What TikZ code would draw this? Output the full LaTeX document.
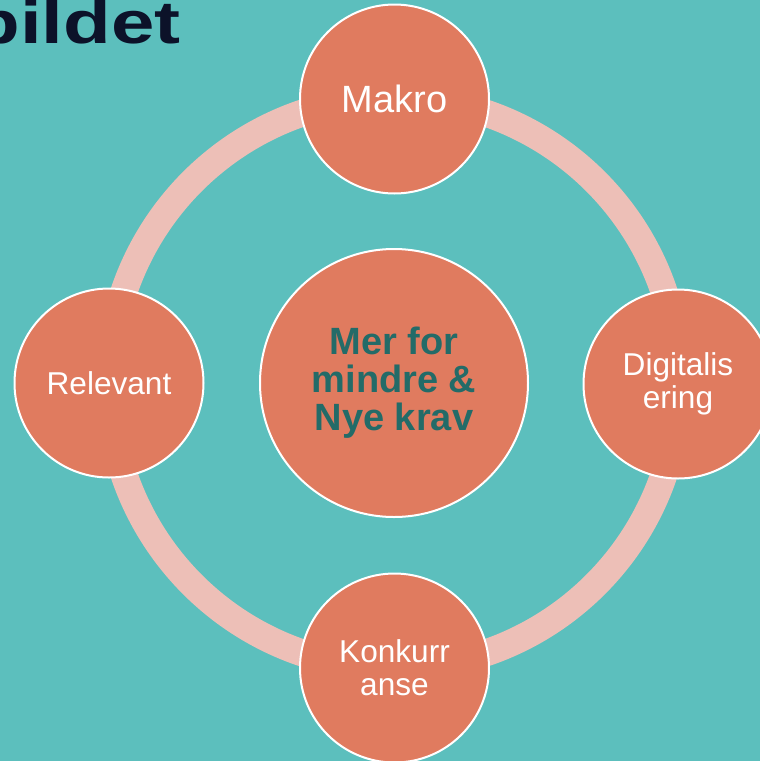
\documentclass[tikz,border=0pt]{standalone}
\usepackage{fontspec}
\setmainfont{Liberation Sans}
\definecolor{nen}{HTML}{5CBFBD}
\definecolor{cam}{HTML}{E07B5F}
\definecolor{hong}{HTML}{EDBFB7}
\definecolor{chu}{HTML}{236B68}
\definecolor{tieude}{HTML}{0C1229}
\begin{document}
\begin{tikzpicture}[x=.5pt, y=-.5pt, line join=round, line cap=round,
	vong/.style={circle, fill=cam, draw=white, line width=1pt, text=white, align=center, inner sep=0pt, minimum size=94.5pt, font=\fontsize{15.8}{16.5}\selectfont}]
		\def\R{142.5pt} % Bán kính vành
		\def\d{13.5pt} % Độ dày vành
		\fill[nen] (0,0) rectangle (760,761);
		\clip (0,0) rectangle (760,761);
		\coordinate (O) at (394,383);
		\draw[hong, line width=\d] (O) circle (\R);
		\node[anchor=base east, inner sep=0pt, text=tieude, font=\bfseries\fontsize{30}{30}\selectfont] (tieude) at (181,43) {\scalebox{1.3}[1]{bildet}};
		\node[vong, minimum size=134pt, text=chu, font=\bfseries\fontsize{19}{19}\selectfont] (giua) at (O) {Mer for\\mindre \&\\Nye krav};
		\node[vong, font=\fontsize{19}{21}\selectfont] (makro) at (394.5,99) {Makro};
		\node[vong] (digital) at (678,384) {Digitalis\\ering};
		\node[vong] (konkurranse) at (394.5,668) {Konkurr\\anse};
		\node[vong] (relevant) at (109,383) {Relevant};
		%\draw (giua)--(makro);
\end{tikzpicture}
\end{document}
